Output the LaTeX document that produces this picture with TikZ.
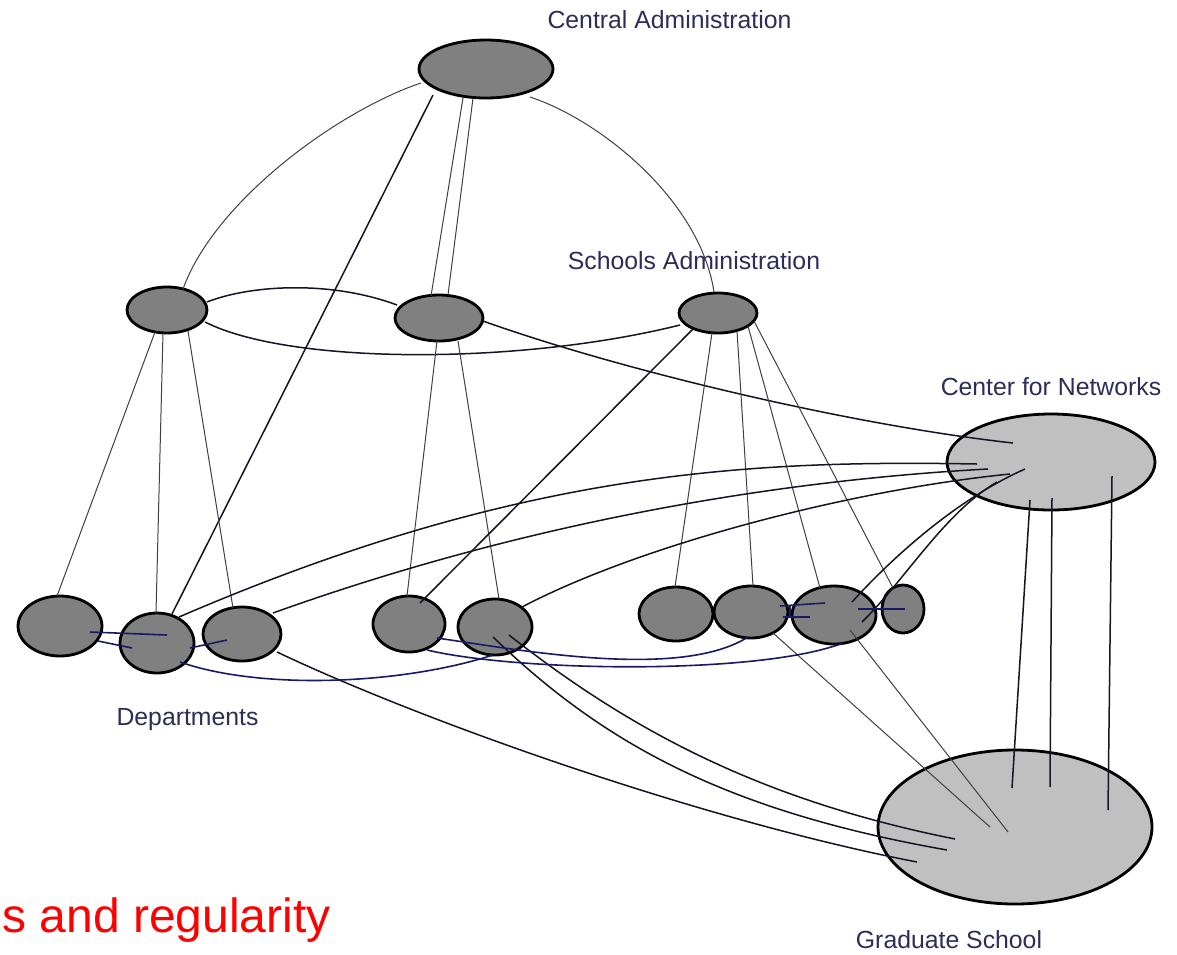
\documentclass[tikz,border=0pt]{standalone}
\usepackage{fontspec}
\setmainfont{Liberation Sans}
\usetikzlibrary{shapes.geometric,calc}
\definecolor{lbl}{RGB}{45,45,90}
\definecolor{ndark}{RGB}{128,128,128}
\definecolor{nlight}{RGB}{192,192,192}
\definecolor{navy}{RGB}{25,25,100}
\definecolor{ink}{RGB}{20,20,35}
\begin{document}
\begin{tikzpicture}[x=0.5pt,y=-0.5pt,
 dnode/.style={ellipse,draw=black,line width=1.4pt,fill=ndark,inner sep=0pt},
 bnode/.style={ellipse,draw=black,line width=1.4pt,fill=nlight,inner sep=0pt},
 lab/.style={text=lbl,font=\fontsize{12.4}{14}\selectfont,anchor=base,inner sep=0pt},
 thinl/.style={line width=0.5pt,draw=black!75},
 medl/.style={line width=0.75pt,draw=ink},
 bluel/.style={line width=0.8pt,draw=navy}]
\useasboundingbox[fill=white] (0,0) rectangle (1177,954);

% nodes
\node[dnode,minimum width=67pt,minimum height=29pt] (CA) at (486,69) {};
\node[dnode,minimum width=40pt,minimum height=23pt] (S1) at (167,310) {};
\node[dnode,minimum width=44pt,minimum height=23pt] (S2) at (439,318) {};
\node[dnode,minimum width=39pt,minimum height=20pt] (S3) at (718,313) {};
\node[bnode,minimum width=104pt,minimum height=48pt] (CN) at (1051,462) {};
\node[bnode,minimum width=137pt,minimum height=77pt] (GS) at (1015,827) {};
\node[dnode,minimum width=42pt,minimum height=30pt] (D1) at (60,626) {};
\node[dnode,minimum width=37pt,minimum height=30pt] (D2) at (157,643) {};
\node[dnode,minimum width=39pt,minimum height=27pt] (D3) at (242,634) {};
\node[dnode,minimum width=36pt,minimum height=28pt] (D4) at (409,624) {};
\node[dnode,minimum width=37pt,minimum height=28pt] (D5) at (495,627) {};
\node[dnode,minimum width=37pt,minimum height=27pt] (D6) at (676,614) {};
\node[dnode,minimum width=37pt,minimum height=26pt] (D7) at (751,612) {};
\node[dnode,minimum width=42pt,minimum height=29pt] (D8) at (834,615) {};
\node[dnode,minimum width=21pt,minimum height=24pt] (D9) at (903,609) {};

% central administration
\draw[thinl] ($(CA)+(-65,14)$) .. controls (340,110) and (215,200) .. ($(S1)+(16,-21)$);
\draw[medl] ($(CA)+(-53,26)$) -- ($(D2)+(15,-29)$);
\draw[thinl] ($(CA)+(-23,29)$) -- ($(S2)+(-8,-22)$);
\draw[thinl] ($(CA)+(-13,29)$) -- ($(S2)+(9,-23)$);
\draw[thinl] ($(CA)+(44,28)$) .. controls (600,120) and (700,200) .. ($(S3)+(-4,-21)$);

% schools
\draw[medl] ($(S1)+(40,-8)$) .. controls (250,285) and (330,280) .. ($(S2)+(-42,-13)$);
\draw[medl] ($(S1)+(38,12)$) .. controls (290,365) and (520,365) .. ($(S3)+(-38,12)$);
\draw[thinl] ($(S1)+(-12,22)$) -- ($(D1)+(-3,-30)$);
\draw[thinl] ($(S1)+(-4,23)$) -- ($(D2)+(-1,-30)$);
\draw[thinl] ($(S1)+(21,21)$) -- ($(D3)+(-9,-26)$);
\draw[medl] ($(S2)+(44,3)$) .. controls (620,370) and (850,425) .. ($(CN)+(-38,-19)$);
\draw[thinl] ($(S2)+(-2,23)$) -- ($(D4)+(-2,-28)$);
\draw[thinl] ($(S2)+(19,23)$) -- ($(D5)+(4,-28)$);
\draw[medl] ($(S3)+(-25,16)$) -- ($(D4)+(11,-21)$);
\draw[thinl] ($(S3)+(-6,20)$) -- ($(D6)+(-1,-27)$);
\draw[thinl] ($(S3)+(19,18)$) -- ($(D7)+(2,-26)$);
\draw[thinl] ($(S3)+(30,13)$) -- ($(D8)+(-14,-27)$);
\draw[thinl] ($(S3)+(36,8)$) -- ($(D9)+(-10,-21)$);

% center for networks
\draw[medl] ($(CN)+(-74,2)$) .. controls (750,460) and (520,470) .. ($(D2)+(22,-26)$);
\draw[medl] ($(CN)+(-63,7)$) .. controls (820,478) and (560,510) .. ($(D3)+(31,-21)$);
\draw[medl] ($(CN)+(-41,12)$) .. controls (850,490) and (640,545) .. ($(D5)+(27,-20)$);
\draw[medl] ($(CN)+(-26,7)$) .. controls (955,500) and (890,560) .. ($(D8)+(18,-13)$);
\draw[medl] ($(CN)+(-54,20)$) .. controls (945,512) and (905,580) .. ($(D8)+(28,7)$);
\draw[medl] ($(CN)+(-21,38)$) -- ($(GS)+(-3,-39)$);
\draw[medl] ($(CN)+(1,36)$) -- ($(GS)+(35,-40)$);
\draw[medl] ($(CN)+(61,14)$) -- ($(GS)+(93,-17)$);

% graduate school
\draw[medl] ($(D3)+(35,18)$) .. controls (420,720) and (700,820) .. ($(GS)+(-98,35)$);
\draw[medl] ($(D5)+(-2,10)$) .. controls (600,740) and (720,810) .. ($(GS)+(-68,23)$);
\draw[medl] ($(D5)+(14,8)$) .. controls (630,730) and (760,800) .. ($(GS)+(-60,12)$);
\draw[thinl] ($(D7)+(22,21)$) -- ($(GS)+(-25,0)$);
\draw[thinl] ($(D8)+(16,15)$) -- ($(GS)+(-7,5)$);

% departments
\draw[bluel] ($(D1)+(30,6)$) -- ($(D2)+(10,-8)$);
\draw[bluel] ($(D1)+(38,15)$) -- ($(D2)+(-25,5)$);
\draw[bluel] ($(D2)+(33,5)$) -- ($(D3)+(-15,6)$);
\draw[bluel] ($(D2)+(23,19)$) .. controls (260,690) and (400,685) .. ($(D5)+(-2,28)$);
\draw[bluel] ($(D4)+(28,14)$) .. controls (520,650) and (680,680) .. ($(D7)+(-3,25)$);
\draw[bluel] ($(D4)+(18,26)$) .. controls (520,672) and (760,675) .. ($(D8)+(9,28)$);
\draw[bluel] ($(D7)+(29,-6)$) -- ($(D8)+(-9,-12)$);
\draw[bluel] ($(D7)+(32,5)$) -- ($(D8)+(-24,2)$);
\draw[bluel] ($(D7)+(39,-7)$) -- ($(D7)+(39,5)$);
\draw[bluel] ($(D8)+(24,-6)$) -- ($(D9)+(2,0)$);

% labels
\node[lab] (tCA) at (669.5,28) {Central Administration};
\node[lab] (tSA) at (694,269) {Schools Administration};
\node[lab] (tCN) at (1051,395) {Center for Networks};
\node[lab] (tDP) at (187.5,725) {Departments};
\node[lab] (tGS) at (949,948) {Graduate School};
\node[text=red,font=\fontsize{24}{28}\selectfont,anchor=base west,inner sep=0pt] (tRed) at (2,932) {s and regularity};
\end{tikzpicture}
\end{document}
